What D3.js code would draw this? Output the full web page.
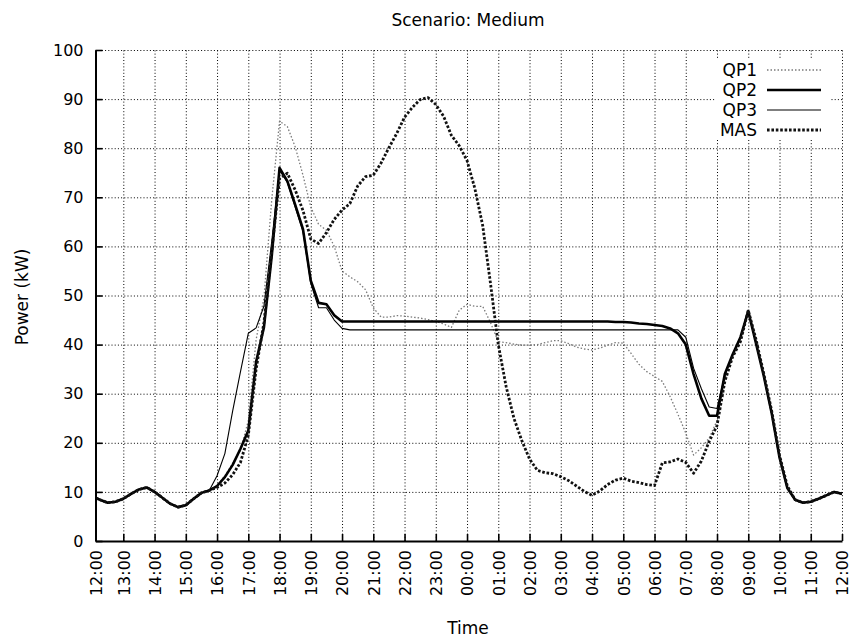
<!DOCTYPE html>
<html><head><meta charset="utf-8">
<script src="https://cdn.jsdelivr.net/npm/d3@7"></script>
<style>
body{margin:0;background:#fff;}
svg text{font-family:"DejaVu Sans",sans-serif;fill:#000;}
</style>
</head><body><svg id="c" width="851" height="639"></svg>
<script>
// hours after 12:00 (first sample ~12:07)
const hours = [0.11,0.25,0.5,0.75,1,1.25,1.5,1.75,2,2.25,2.5,2.75,3,3.25,3.5,3.75,
4,4.25,4.5,4.75,5,5.25,5.5,5.75,6,6.25,6.5,6.75,7,7.25,7.5,7.75,
8,8.25,8.5,8.75,9,9.25,9.5,9.75,10,10.25,10.5,10.75,11,11.25,11.5,11.75,
12,12.25,12.5,12.75,13,13.25,13.5,13.75,14,14.25,14.5,14.75,15,15.25,15.5,15.75,
16,16.25,16.5,16.75,17,17.25,17.5,17.75,18,18.25,18.5,18.75,19,19.25,19.5,19.75,
20,20.25,20.5,20.75,21,21.25,21.5,21.75,22,22.25,22.5,22.75,23,23.25,23.5,23.75,24];

const tickHours = [0.11,1,2,3,4,5,6,7,8,9,10,11,12,13,14,15,16,17,18,19,20,21,22,23,24];
const tickLabels = ["12:00","13:00","14:00","15:00","16:00","17:00","18:00","19:00","20:00","21:00",
"22:00","23:00","00:00","01:00","02:00","03:00","04:00","05:00","06:00","07:00","08:00","09:00",
"10:00","11:00","12:00"];
const yTicks = [0,10,20,30,40,50,60,70,80,90,100];

const qp1 = [8.8,8.4,7.8,8.0,8.6,9.6,10.5,10.9,10.0,8.8,7.6,6.9,7.3,8.6,9.8,10.3,
11.3,13.3,15.8,18.5,24.5,41,49.5,69.5,85.5,84.4,80.3,74.5,68,64.5,63.3,60,
55,53.8,52.8,51.2,47.5,45.6,45.6,45.9,45.8,45.6,45.4,45.1,44.7,44.2,43.5,47,
48.2,47.8,47.8,44.5,40.6,40.4,40.1,39.9,39.9,40.0,40.4,40.8,40.8,40.2,39.5,39.1,
38.9,39.3,39.9,40.4,40.3,38.2,36,34.5,33.5,32.5,29.4,25.8,22,17.5,19,21,
24.5,33,37.8,41,47.3,41,34.2,26.5,17.3,11,8.4,7.8,8.0,8.6,9.3,10.0,9.6];

const qp2 = [8.8,8.4,7.8,8.0,8.6,9.6,10.5,10.9,10.0,8.8,7.6,6.9,7.3,8.6,9.8,10.3,
11.2,13.0,15.5,18.8,22.5,36.5,43.5,58,76,73.3,68.5,63.5,53,48.5,48.2,46,
44.7,44.7,44.7,44.7,44.7,44.7,44.7,44.7,44.7,44.7,44.7,44.7,44.7,44.7,44.7,44.7,
44.7,44.7,44.7,44.7,44.7,44.7,44.7,44.7,44.7,44.7,44.7,44.7,44.7,44.7,44.7,44.7,
44.7,44.7,44.7,44.6,44.6,44.5,44.3,44.2,44.0,43.8,43.3,42.3,40,34,29,25.5,
25.5,34,38,41.5,46.8,40.2,33.5,26,17,10.8,8.4,7.8,8.0,8.6,9.3,10.0,9.6];

const qp3 = [8.8,8.4,7.8,8.0,8.6,9.6,10.5,10.9,10.0,8.8,7.6,6.9,7.3,8.6,9.8,10.3,
13.3,17.8,26.5,34.5,42.3,43.4,47.8,61,75.5,73,68,63,52.5,47.5,47.5,45,
43.3,43.0,43.0,43.0,43.0,43.0,43.0,43.0,43.0,43.0,43.0,43.0,43.0,43.0,43.0,43.0,
43.0,43.0,43.0,43.0,43.0,43.0,43.0,43.0,43.0,43.0,43.0,43.0,43.0,43.0,43.0,43.0,
43.0,43.0,43.0,43.0,43.0,43.0,43.0,43.0,43.0,43.0,43.0,43.0,41.5,35.2,31,27.3,
27.0,33.8,38,41.5,46.8,40.2,33.5,26,17,10.8,8.4,7.8,8.0,8.6,9.3,10.0,9.6];

const mas = [8.8,8.4,7.8,8.0,8.6,9.6,10.5,10.9,10.0,8.8,7.6,6.9,7.3,8.6,9.8,10.3,
10.9,11.8,13.5,16,21.5,35,44.5,59,73.8,74.9,71.5,67.3,61.5,60.6,62.8,65.5,
67.4,68.7,72.3,74.2,74.5,77,80.1,83,86.3,88.3,89.9,90.3,88.9,86.5,82.6,80.5,
77.5,71.8,64.3,52.5,40,31.5,25,20.5,16.7,14.4,13.9,13.7,13.1,12.3,11.2,10.1,
9.3,10.2,11.5,12.4,12.8,12.2,11.9,11.5,11.3,15.9,16.1,16.7,16.0,13.8,16.3,20.3,
23.5,32.5,37.5,40.6,47.0,41,34,26.5,17.5,11.2,8.4,7.8,8.0,8.6,9.3,10.0,9.6];

const seriesNames = ["QP1","QP2","QP3","MAS"];
const seriesValues = [qp1, qp2, qp3, mas];

const styles = {
  QP1: {stroke:"#7a7a7a", width:1.3, dash:"1.5,2"},
  QP2: {stroke:"#000", width:2.6, dash:null},
  QP3: {stroke:"#000", width:1.1, dash:null},
  MAS: {stroke:"#111", width:2.8, dash:"2.6,1.8"}
};

const L = 95.5, R = 842, T = 50, B = 541;
const svg = d3.select("#c");
const x = d3.scaleLinear().domain([hours[0], hours[hours.length-1]]).range([L, R]);
const y = d3.scaleLinear().domain([0, 100]).range([B, T]);

// grid
const gx = svg.append("g").attr("transform", `translate(0,${B})`)
  .call(d3.axisBottom(x).tickValues(tickHours.slice(1)).tickSize(-(B - T)).tickFormat(""));
gx.select(".domain").remove();
gx.selectAll("line").attr("stroke", "#000").attr("stroke-width", 1).attr("stroke-dasharray", "1,2.2");
const gy = svg.append("g").attr("transform", `translate(${L},0)`)
  .call(d3.axisLeft(y).tickValues(yTicks.slice(1)).tickSize(-(R - L)).tickFormat(""));
gy.select(".domain").remove();
gy.selectAll("line").attr("stroke", "#000").attr("stroke-width", 1).attr("stroke-dasharray", "1,2.2");

// series
const line = d3.line().x((d, i) => x(hours[i])).y(d => y(d));
seriesNames.forEach((name, k) => {
  const s = styles[name];
  svg.append("path").datum(seriesValues[k])
    .attr("fill", "none").attr("stroke", s.stroke).attr("stroke-width", s.width)
    .attr("stroke-linejoin", "round")
    .attr("stroke-dasharray", s.dash).attr("d", line);
});

// axes
const ax = svg.append("g").attr("transform", `translate(0,${B})`)
  .call(d3.axisBottom(x).tickValues(tickHours).tickSizeInner(-7).tickSizeOuter(0)
    .tickFormat((d, i) => tickLabels[i]));
ax.attr("font-family", null).attr("font-size", null);
ax.select(".domain").attr("stroke", "#000").attr("stroke-width", 2);
ax.selectAll(".tick line").attr("stroke", "#000").attr("stroke-width", 1.6);
ax.selectAll(".tick text").attr("transform", "rotate(-90)").attr("x", -9).attr("y", 0)
  .attr("dy", "0.36em").style("text-anchor", "end").style("font-size", "16px");

const ay = svg.append("g").attr("transform", `translate(${L},0)`)
  .call(d3.axisLeft(y).tickValues(yTicks).tickSizeInner(-7).tickSizeOuter(0).tickPadding(12));
ay.attr("font-family", null).attr("font-size", null);
ay.select(".domain").attr("stroke", "#000").attr("stroke-width", 2);
ay.selectAll(".tick line").attr("stroke", "#000").attr("stroke-width", 1.6);
ay.selectAll(".tick text").style("font-size", "16px");

// titles
svg.append("text").attr("x", 468).attr("y", 26).attr("text-anchor", "middle")
  .style("font-size", "17px").text("Scenario: Medium");
svg.append("text").attr("x", 468).attr("y", 634).attr("text-anchor", "middle")
  .style("font-size", "17px").text("Time");
svg.append("text").attr("transform", "translate(28,297) rotate(-90)").attr("text-anchor", "middle")
  .style("font-size", "17px").text("Power (kW)");

// legend
const lg = svg.append("g");
lg.append("rect").attr("x", 716).attr("y", 58).attr("width", 114).attr("height", 82).attr("fill", "#fff");
seriesNames.forEach((name, k) => {
  const s = styles[name];
  const by = 76 + k * 20;
  lg.append("text").attr("x", 757).attr("y", by).attr("text-anchor", "end")
    .style("font-size", "17px").text(name);
  lg.append("line").attr("x1", 767).attr("x2", 821).attr("y1", by - 6).attr("y2", by - 6)
    .attr("stroke", s.stroke).attr("stroke-width", s.width).attr("stroke-dasharray", s.dash);
});
</script>
</body></html>
